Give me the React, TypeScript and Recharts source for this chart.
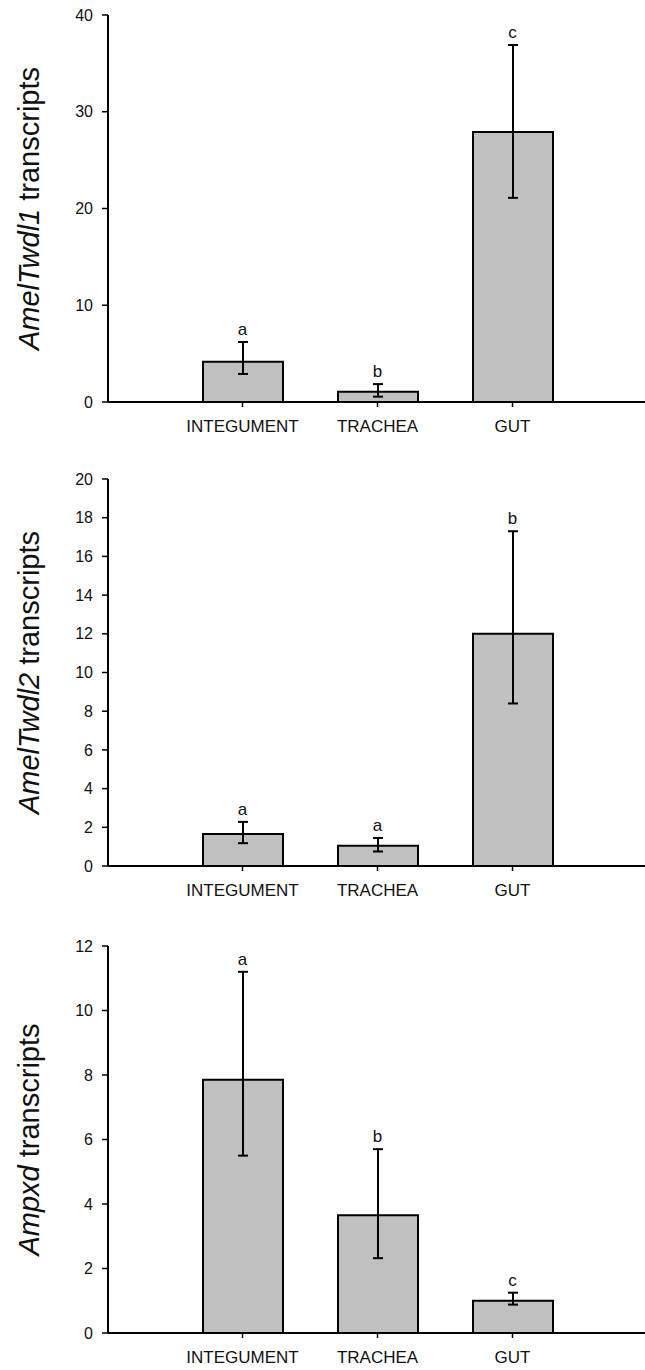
import type { ReactNode } from 'react'
import { Bar, ComposedChart, ErrorBar, Label, LabelList, Line, XAxis, YAxis } from 'recharts'

// tissues on the x axis, shared by all three panels
const tissues = ['INTEGUMENT', 'TRACHEA', 'GUT']

// AmelTwdl1
const twdl1Mean = [4.15, 1.05, 27.9]
const twdl1Low = [2.9, 0.55, 21.1]
const twdl1High = [6.2, 1.85, 36.9]
const twdl1Sig = ['a', 'b', 'c']
const twdl1Ticks = [0, 10, 20, 30, 40]

// AmelTwdl2
const twdl2Mean = [1.65, 1.05, 12.0]
const twdl2Low = [1.18, 0.75, 8.4]
const twdl2High = [2.28, 1.45, 17.3]
const twdl2Sig = ['a', 'a', 'b']
const twdl2Ticks = [0, 2, 4, 6, 8, 10, 12, 14, 16, 18, 20]

// Ampxd
const ampxdMean = [7.85, 3.65, 1.0]
const ampxdLow = [5.5, 2.32, 0.88]
const ampxdHigh = [11.2, 5.7, 1.25]
const ampxdSig = ['a', 'b', 'c']
const ampxdTicks = [0, 2, 4, 6, 8, 10, 12]

const FONT = '"Liberation Sans", Arial, sans-serif'
const INK = '#111'
const PAD = { left: 67, right: 67 }

function rows(mean: number[], low: number[], high: number[], sig: string[]) {
  return tissues.map((t, i) => ({
    tissue: t,
    mean: mean[i],
    err: [mean[i] - low[i], high[i] - mean[i]],
    hi: high[i],
    sig: sig[i],
  }))
}

function Panel(props: {
  top: number
  gene: string
  data: ReturnType<typeof rows>
  ticks: number[]
}): ReactNode {
  const max = props.ticks[props.ticks.length - 1]
  const title = (p: any) => {
    const vb = p.viewBox ?? { y: 0, height: 0 }
    const cy = vb.y + vb.height / 2
    return (
      <text
        x={39}
        y={cy}
        transform={`rotate(-90, 39, ${cy})`}
        textAnchor="middle"
        fontSize={29}
        fill={INK}
        fontFamily={FONT}
      >
        <tspan fontStyle="italic">{props.gene}</tspan>
        <tspan> transcripts</tspan>
      </text>
    )
  }
  return (
    <div style={{ position: 'absolute', left: 0, top: props.top }}>
      <ComposedChart
        width={660}
        height={466}
        data={props.data}
        margin={{ top: 15, right: 13, bottom: 24, left: 0 }}
        style={{ fontFamily: FONT }}
      >
        <XAxis
          xAxisId="top"
          orientation="top"
          dataKey="tissue"
          height={0}
          tick={false}
          tickLine={false}
          padding={PAD}
          axisLine={{ stroke: '#000', strokeWidth: 2 }}
        />
        <XAxis
          dataKey="tissue"
          height={40}
          interval={0}
          padding={PAD}
          tickSize={5}
          tickMargin={13}
          tick={{ fontSize: 17, fill: INK }}
          tickLine={{ stroke: '#000', strokeWidth: 1.5 }}
          axisLine={{ stroke: '#000', strokeWidth: 2 }}
        />
        <YAxis
          width={108}
          domain={[0, max]}
          ticks={props.ticks}
          interval={0}
          tickSize={6}
          tickMargin={9}
          tick={{ fontSize: 16, fill: INK }}
          tickLine={{ stroke: '#000', strokeWidth: 1.5 }}
          axisLine={{ stroke: '#000', strokeWidth: 2 }}
        >
          <Label content={title} />
        </YAxis>
        <Bar
          dataKey="mean"
          barSize={80}
          fill="#c0c0c0"
          stroke="#000"
          strokeWidth={2}
          isAnimationActive={false}
        >
          <ErrorBar dataKey="err" direction="y" width={5} stroke="#000" strokeWidth={2} />
        </Bar>
        <Line
          dataKey="hi"
          stroke="none"
          dot={false}
          activeDot={false}
          legendType="none"
          isAnimationActive={false}
        >
          <LabelList dataKey="sig" position="top" offset={7} fontSize={17} fill={INK} />
        </Line>
      </ComposedChart>
    </div>
  )
}

export default function App(): ReactNode {
  return (
    <div
      style={{
        position: 'absolute',
        left: 0,
        top: 0,
        width: 645,
        height: 1370,
        overflow: 'hidden',
        background: '#fff',
        fontFamily: FONT,
      }}
    >
      <Panel top={0} gene="AmelTwdl1" data={rows(twdl1Mean, twdl1Low, twdl1High, twdl1Sig)} ticks={twdl1Ticks} />
      <Panel top={464} gene="AmelTwdl2" data={rows(twdl2Mean, twdl2Low, twdl2High, twdl2Sig)} ticks={twdl2Ticks} />
      <Panel top={931} gene="Ampxd" data={rows(ampxdMean, ampxdLow, ampxdHigh, ampxdSig)} ticks={ampxdTicks} />
    </div>
  )
}
